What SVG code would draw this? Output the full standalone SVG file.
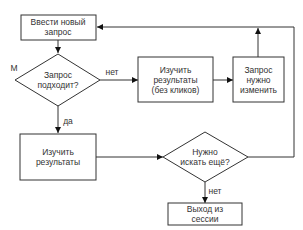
<svg xmlns="http://www.w3.org/2000/svg" width="303" height="230" viewBox="0 0 303 230">
<style>
.n{fill:#fff;stroke:#333;stroke-width:1}
.c{fill:none;stroke:#333;stroke-width:1}
text{font-family:"Liberation Sans",Arial,sans-serif;font-size:8.5px;fill:#333;text-anchor:middle}
</style>
<defs>
<marker id="a" viewBox="0 0 8 8" refX="8" refY="4" markerWidth="6" markerHeight="6" orient="auto" markerUnits="userSpaceOnUse">
<path d="M0,0L8,4L0,8z" fill="#111"/>
</marker>
</defs>
<rect width="303" height="230" fill="#fff"/>
<g id="connectors">
<path class="c" d="M58,40V53" marker-end="url(#a)"/>
<path class="c" d="M100,80H138" marker-end="url(#a)"/>
<path class="c" d="M213,80H233" marker-end="url(#a)"/>
<path class="c" d="M258,57V28" marker-end="url(#a)"/>
<path class="c" d="M248,157H294V27H97" marker-end="url(#a)"/>
<path class="c" d="M58,105V133" marker-end="url(#a)"/>
<path class="c" d="M96,157H163" marker-end="url(#a)"/>
<path class="c" d="M205,182V203" marker-end="url(#a)"/>
<text x="112" y="75">нет</text>
<text x="68" y="124">да</text>
<text x="215" y="194">нет</text>
</g>
<g id="n1">
<rect class="n" x="21" y="15" width="75" height="25"/>
<text x="58" y="25">Ввести новый</text>
<text x="58" y="35">запрос</text>
</g>
<g id="n2">
<path class="n" d="M58,54L100,80L58,106L15,80z"/>
<text x="14" y="71">М</text>
<text x="58" y="78">Запрос</text>
<text x="58" y="88">подходит?</text>
</g>
<g id="n3">
<rect class="n" x="138" y="57" width="75" height="45"/>
<text x="175.5" y="73">Изучить</text>
<text x="175.5" y="83">результаты</text>
<text x="175.5" y="93">(без кликов)</text>
</g>
<g id="n4">
<rect class="n" x="233" y="57" width="51" height="45"/>
<text x="258.5" y="73">Запрос</text>
<text x="258.5" y="83">нужно</text>
<text x="258.5" y="93">изменить</text>
</g>
<g id="n5">
<rect class="n" x="20" y="134" width="76" height="46"/>
<text x="58" y="155">Изучить</text>
<text x="58" y="165">результаты</text>
</g>
<g id="n6">
<path class="n" d="M205,132L248,157L205,182L163,157z"/>
<text x="205" y="155">Нужно</text>
<text x="205" y="165">искать ещё?</text>
</g>
<g id="n7">
<rect class="n" x="168" y="203" width="74" height="22"/>
<text x="205" y="212">Выход из</text>
<text x="205" y="222">сессии</text>
</g>
</svg>
